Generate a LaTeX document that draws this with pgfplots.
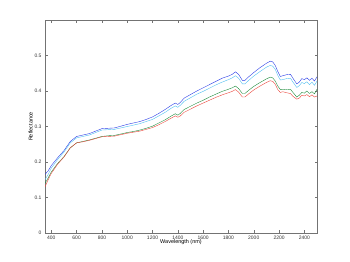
\documentclass[border=0pt]{standalone}
\usepackage{pgfplots}
\pgfplotsset{compat=1.18}
\usepackage{fontspec}
\setmainfont{Liberation Sans}
\definecolor{cblue}{RGB}{40,60,230}
\definecolor{ccyan}{RGB}{80,190,240}
\definecolor{cgreen}{RGB}{30,140,60}
\definecolor{cred}{RGB}{235,70,60}
\begin{document}
\begin{tikzpicture}
\begin{axis}[
  name=ax, at={(0,0)}, anchor=south west,
  scale only axis, width=272bp, height=213bp,
  xmin=350, xmax=2500, ymin=0, ymax=0.6,
  xtick={400,600,...,2400}, ytick={0,0.1,...,0.5},
  yticklabel style={/pgf/number format/fixed,/pgf/number format/precision=1},
  xticklabel style={/pgf/number format/1000 sep={}},
  /pgf/number format/assume math mode=true,
  tick label style={font=\fontsize{5}{6}\selectfont, text=black!80},
  label style={font=\fontsize{5.5}{6.5}\selectfont},
  xlabel={Wavelength (nm)}, ylabel={Reflectance},
  xlabel style={yshift=7pt}, ylabel style={yshift=-5pt},
  tick align=inside, major tick length=2.5bp,
  axis line style={black!55, line width=0.4pt},
  every tick/.style={black!55, line width=0.3pt},
  xtick pos=both, ytick pos=both,
  every axis plot/.append style={line width=0.4pt, no marks},
]
\addplot[cblue] coordinates {(350,0.165)(375,0.175)(400,0.19)(450,0.212)(500,0.232)(550,0.258)(600,0.272)(650,0.276)(700,0.280)(750,0.287)(800,0.294)(850,0.295)(900,0.296)(950,0.301)(1000,0.306)(1050,0.310)(1100,0.314)(1150,0.320)(1200,0.327)(1250,0.337)(1300,0.348)(1350,0.360)(1380,0.366)(1400,0.362)(1420,0.368)(1450,0.380)(1500,0.390)(1550,0.400)(1600,0.409)(1650,0.418)(1700,0.427)(1750,0.436)(1800,0.442)(1830,0.447)(1855,0.454)(1880,0.447)(1910,0.430)(1930,0.430)(1960,0.440)(2000,0.452)(2050,0.466)(2100,0.478)(2130,0.484)(2150,0.482)(2170,0.472)(2190,0.455)(2210,0.441)(2230,0.443)(2260,0.446)(2290,0.447)(2310,0.436)(2340,0.420)(2360,0.425)(2380,0.435)(2400,0.432)(2420,0.437)(2440,0.430)(2460,0.436)(2480,0.428)(2500,0.440)};
\addplot[ccyan] coordinates {(350,0.150)(375,0.165)(400,0.183)(450,0.207)(500,0.228)(550,0.254)(600,0.268)(650,0.272)(700,0.276)(750,0.283)(800,0.290)(850,0.291)(900,0.292)(950,0.296)(1000,0.300)(1050,0.304)(1100,0.308)(1150,0.314)(1200,0.320)(1250,0.330)(1300,0.340)(1350,0.352)(1380,0.358)(1400,0.354)(1420,0.360)(1450,0.371)(1500,0.381)(1550,0.391)(1600,0.399)(1650,0.408)(1700,0.417)(1750,0.425)(1800,0.432)(1830,0.437)(1855,0.443)(1880,0.436)(1910,0.420)(1930,0.420)(1960,0.430)(2000,0.442)(2050,0.455)(2100,0.467)(2130,0.472)(2150,0.470)(2170,0.461)(2190,0.444)(2210,0.431)(2230,0.432)(2260,0.435)(2290,0.436)(2310,0.425)(2340,0.410)(2360,0.415)(2380,0.424)(2400,0.421)(2420,0.426)(2440,0.418)(2460,0.425)(2480,0.416)(2500,0.428)};
\addplot[cgreen] coordinates {(350,0.140)(375,0.155)(400,0.172)(450,0.196)(500,0.215)(550,0.240)(600,0.254)(650,0.258)(700,0.262)(750,0.267)(800,0.272)(850,0.274)(900,0.275)(950,0.279)(1000,0.283)(1050,0.286)(1100,0.290)(1150,0.295)(1200,0.301)(1250,0.310)(1300,0.319)(1350,0.330)(1380,0.336)(1400,0.332)(1420,0.337)(1450,0.348)(1500,0.357)(1550,0.366)(1600,0.374)(1650,0.383)(1700,0.391)(1750,0.399)(1800,0.405)(1830,0.409)(1855,0.414)(1880,0.407)(1910,0.393)(1930,0.393)(1960,0.402)(2000,0.413)(2050,0.424)(2100,0.434)(2130,0.439)(2150,0.437)(2170,0.428)(2190,0.414)(2210,0.404)(2230,0.405)(2260,0.404)(2290,0.405)(2310,0.396)(2340,0.383)(2360,0.388)(2380,0.396)(2400,0.394)(2420,0.400)(2440,0.393)(2460,0.398)(2480,0.392)(2500,0.405)};
\addplot[cred] coordinates {(350,0.130)(375,0.150)(400,0.168)(450,0.194)(500,0.214)(550,0.240)(600,0.254)(650,0.257)(700,0.261)(750,0.266)(800,0.271)(850,0.272)(900,0.273)(950,0.277)(1000,0.281)(1050,0.284)(1100,0.287)(1150,0.292)(1200,0.297)(1250,0.305)(1300,0.314)(1350,0.324)(1380,0.330)(1400,0.326)(1420,0.330)(1450,0.340)(1500,0.349)(1550,0.358)(1600,0.366)(1650,0.374)(1700,0.382)(1750,0.389)(1800,0.395)(1830,0.399)(1855,0.404)(1880,0.397)(1910,0.383)(1930,0.383)(1960,0.392)(2000,0.403)(2050,0.414)(2100,0.424)(2130,0.429)(2150,0.427)(2170,0.419)(2190,0.404)(2210,0.396)(2230,0.398)(2260,0.395)(2290,0.393)(2310,0.385)(2340,0.377)(2360,0.380)(2380,0.388)(2400,0.386)(2420,0.390)(2440,0.384)(2460,0.389)(2480,0.383)(2500,0.386)};
\end{axis}
\pgfresetboundingbox
\path ([shift={(-45bp,-29bp)}]ax.south west) rectangle ++(350bp,262bp);
\end{tikzpicture}
\end{document}
